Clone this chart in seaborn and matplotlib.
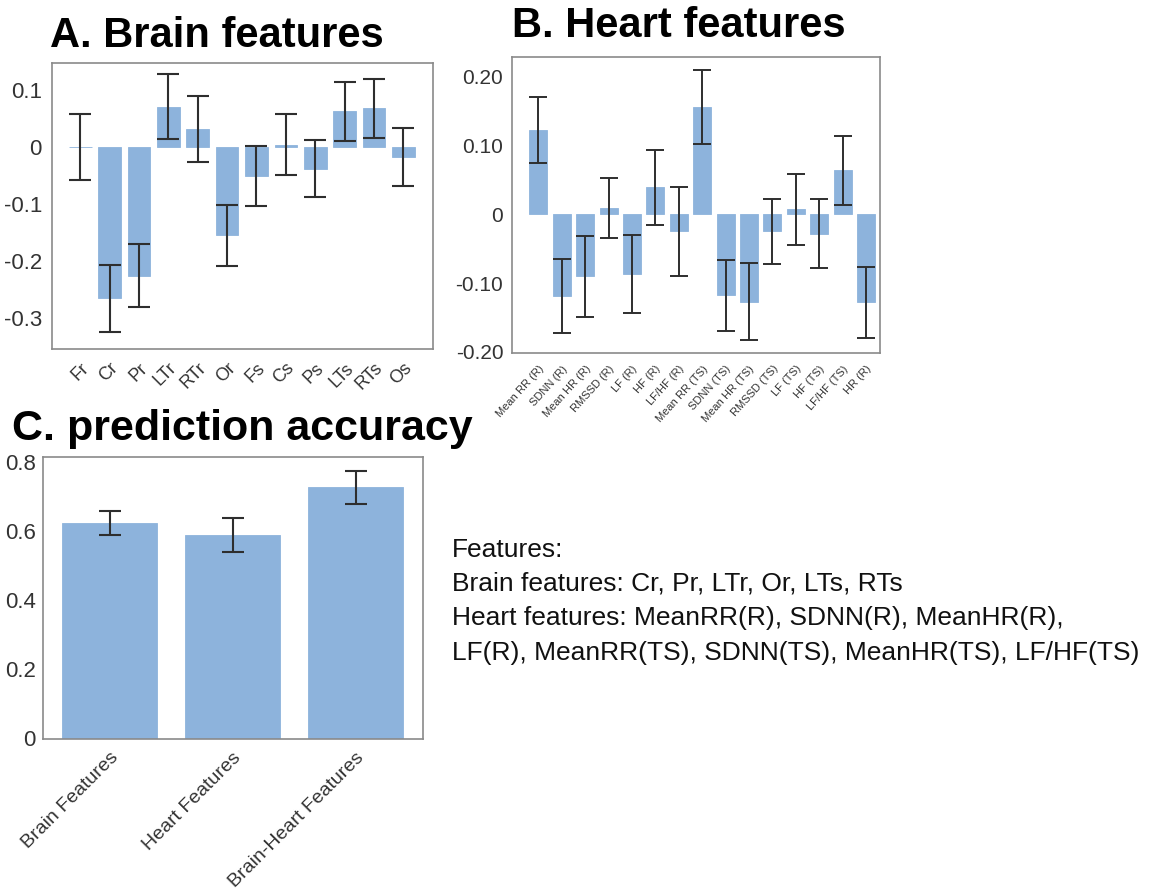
import numpy as np
import pandas as pd
import matplotlib
matplotlib.use('Agg')
import matplotlib.pyplot as plt
import seaborn as sns
from matplotlib.ticker import MultipleLocator, FuncFormatter

# ---------- data
brain_labels = ['Fr', 'Cr', 'Pr', 'LTr', 'RTr', 'Or', 'Fs', 'Cs', 'Ps', 'LTs', 'RTs', 'Os']
brain_vals = [0.0, -0.265, -0.225, 0.070, 0.031, -0.155, -0.051, 0.004, -0.038, 0.062, 0.067, -0.018]
brain_err = [0.058, 0.058, 0.055, 0.057, 0.058, 0.053, 0.052, 0.054, 0.050, 0.051, 0.052, 0.051]

heart_labels = ['Mean RR (R)', 'SDNN (R)', 'Mean HR (R)', 'RMSSD (R)', 'LF (R)', 'HF (R)',
                'LF/HF (R)', 'Mean RR (TS)', 'SDNN (TS)', 'Mean HR (TS)', 'RMSSD (TS)',
                'LF (TS)', 'HF (TS)', 'LF/HF (TS)', 'HR (R)']
heart_vals = [0.123, -0.119, -0.090, 0.009, -0.087, 0.039, -0.025, 0.156, -0.118, -0.127,
              -0.025, 0.007, -0.028, 0.064, -0.128]
heart_err = [0.048, 0.054, 0.059, 0.044, 0.057, 0.054, 0.065, 0.054, 0.051, 0.056,
             0.047, 0.052, 0.050, 0.050, 0.052]

acc_labels = ['Brain Features', 'Heart Features', 'Brain-Heart Features']
acc_vals = [0.622, 0.588, 0.725]
acc_err = [0.035, 0.050, 0.047]

notes = ['Features:',
         'Brain features: Cr, Pr, LTr, Or, LTs, RTs',
         'Heart features: MeanRR(R), SDNN(R), MeanHR(R),',
         'LF(R), MeanRR(TS), SDNN(TS), MeanHR(TS), LF/HF(TS)']

#----------- style
sns.set_style('white')
plt.rcParams['font.family'] = ['Liberation Sans', 'DejaVu Sans']
plt.rcParams['text.color'] = '#111111'
plt.rcParams['xtick.color'] = '#333333'
plt.rcParams['ytick.color'] = '#333333'
bar_col = '#8db3dc'
err_col = '#2e2e2e'
spine_col = '#8a8a8a'

fig = plt.figure(figsize=(11.62, 8.91), dpi=100)
W, H = 1162.0, 891.0

def axes_px(left, top, right, bottom):
    return fig.add_axes([left / W, 1 - bottom / H, (right - left) / W, (bottom - top) / H])

def fmt_tick(decimals):
    return FuncFormatter(lambda v, p: '0' if abs(v) < 1e-9 else f'{v:.{decimals}f}')

def style_axes(ax, ysize, ypad):
    for s in ax.spines.values():
        s.set_color(spine_col)
        s.set_linewidth(1.2)
    ax.tick_params(axis='both', which='both', direction='out', color=spine_col, width=1)
    ax.tick_params(axis='both', which='major', length=4)
    ax.tick_params(axis='y', which='minor', length=2.5)
    ax.tick_params(axis='y', labelsize=ysize, pad=ypad)
    ax.set_xlabel('')
    ax.set_ylabel('')

def draw_bars(ax, labels, vals, errs, capsize, lw):
    df = pd.DataFrame({'feature': labels, 'value': vals})
    sns.barplot(data=df, x='feature', y='value', color=bar_col, saturation=1,
                errorbar=None, width=0.77, ax=ax, edgecolor=bar_col, linewidth=0.6)
    ax.errorbar(np.arange(len(labels)), vals, yerr=errs, fmt='none', ecolor=err_col,
                elinewidth=lw, capsize=capsize, capthick=lw)

#----------- A. Brain features
axA = axes_px(51.7, 63.3, 433.3, 349.3)
draw_bars(axA, brain_labels, brain_vals, brain_err, capsize=8, lw=1.5)
axA.set_xlim(-0.97, 12.02)
axA.set_ylim(-0.354, 0.146)
axA.yaxis.set_major_locator(MultipleLocator(0.1))
axA.yaxis.set_major_formatter(fmt_tick(1))
style_axes(axA, 16, 7)
axA.tick_params(axis='y', which='major', length=0)
axA.set_xticks(range(len(brain_labels)))
axA.set_xticklabels(brain_labels, rotation=45, ha='right', rotation_mode='anchor', fontsize=13)

#----------- B. Heart features
axB = axes_px(511.7, 57.3, 880, 353.3)
draw_bars(axB, heart_labels, heart_vals, heart_err, capsize=6.5, lw=1.4)
axB.set_xlim(-1.14, 14.6)
axB.set_ylim(-0.202, 0.228)
axB.yaxis.set_major_locator(MultipleLocator(0.1))
axB.yaxis.set_minor_locator(MultipleLocator(0.05))
axB.yaxis.set_major_formatter(fmt_tick(2))
style_axes(axB, 15, 2)
axB.set_xticks(range(len(heart_labels)))
axB.set_xticklabels(heart_labels, rotation=48, ha='right', rotation_mode='anchor', fontsize=8)

#----------- C. prediction accuracy
axC = axes_px(43.3, 457, 423.3, 738.5)
draw_bars(axC, acc_labels, acc_vals, acc_err, capsize=8, lw=1.5)
axC.set_xlim(-0.54, 2.55)
axC.set_ylim(0, 0.813)
axC.yaxis.set_major_locator(MultipleLocator(0.2))
axC.yaxis.set_minor_locator(MultipleLocator(0.1))
axC.yaxis.set_major_formatter(fmt_tick(1))
style_axes(axC, 16, 1.5)
axC.set_xticks(range(len(acc_labels)))
axC.set_xticklabels(acc_labels, rotation=45, ha='right', rotation_mode='anchor', fontsize=14)

#----------- titles and notes
fig.text(50 / W, 1 - 47 / H, 'A. Brain features', fontsize=30, fontweight='bold',
         ha='left', va='baseline', color='black')
fig.text(512 / W, 1 - 37 / H, 'B. Heart features', fontsize=30, fontweight='bold',
         ha='left', va='baseline', color='black')
fig.text(12 / W, 1 - 440 / H, 'C. prediction accuracy', fontsize=31, fontweight='bold',
         ha='left', va='baseline', color='black')

baselines = [557, 591, 625, 660]
for line, yb in zip(notes, baselines):
    fig.text(452 / W, 1 - yb / H, line, fontsize=19, ha='left', va='baseline')

fig.savefig('out.png', dpi=100, facecolor='white')
